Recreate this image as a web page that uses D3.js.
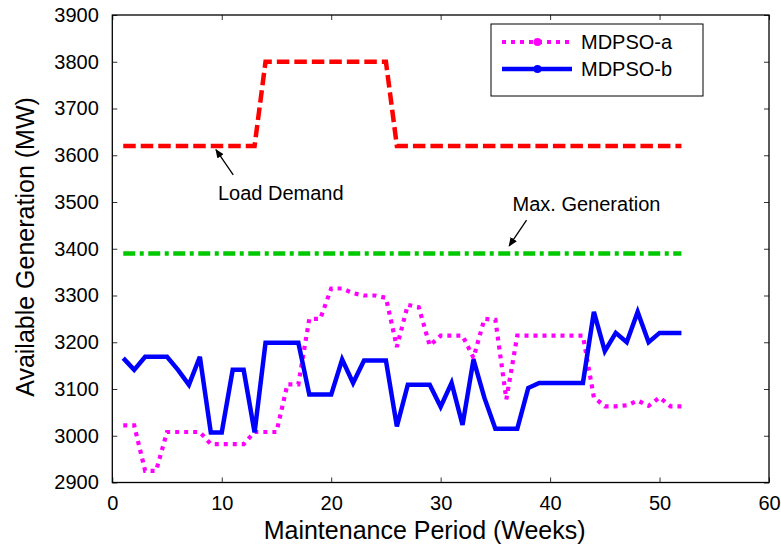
<!DOCTYPE html>
<html>
<head>
<meta charset="utf-8">
<script src="https://cdn.jsdelivr.net/npm/d3@7"></script>
<style>
  html, body { margin: 0; padding: 0; background: #fff; }
  svg { display: block; }
  text { font-family: "Liberation Sans", Arial, Helvetica, sans-serif; fill: #000; }
</style>
</head>
<body>
<svg id="chart" width="781" height="550"></svg>
<script>
// Maintenance weeks
const weeks = [1,2,3,4,5,6,7,8,9,10,11,12,13,14,15,16,17,18,19,20,21,22,23,24,25,26,
               27,28,29,30,31,32,33,34,35,36,37,38,39,40,41,42,43,44,45,46,47,48,49,50,51,52];

// Weekly load demand (MW)
const loadDemand = [3620,3620,3620,3620,3620,3620,3620,3620,3620,3620,3620,3620,3620,
                    3800,3800,3800,3800,3800,3800,3800,3800,3800,3800,3800,3800,
                    3620,3620,3620,3620,3620,3620,3620,3620,3620,3620,3620,3620,3620,3620,
                    3620,3620,3620,3620,3620,3620,3620,3620,3620,3620,3620,3620,3620];

// Installed maximum generation (MW)
const maxGeneration = [3390,3390,3390,3390,3390,3390,3390,3390,3390,3390,3390,3390,3390,
                       3390,3390,3390,3390,3390,3390,3390,3390,3390,3390,3390,3390,3390,
                       3390,3390,3390,3390,3390,3390,3390,3390,3390,3390,3390,3390,3390,
                       3390,3390,3390,3390,3390,3390,3390,3390,3390,3390,3390,3390,3390];

// Available generation per schedule (MW)
const mdpsoA = [3022,3022,2925,2925,3008,3008,3008,3008,2982,2982,2982,2982,3008,
                3008,3008,3110,3110,3250,3250,3315,3315,3305,3300,3300,3295,3190,
                3280,3275,3193,3214,3214,3214,3167,3250,3248,3078,3214,3214,3214,
                3214,3214,3214,3214,3082,3063,3063,3065,3075,3064,3082,3063,3063];

const mdpsoB = [3166,3141,3169,3169,3169,3141,3109,3169,3007,3007,3141,3141,3007,
                3199,3199,3199,3199,3088,3088,3088,3163,3113,3161,3161,3161,3020,
                3109,3109,3109,3062,3113,3023,3163,3081,3015,3015,3015,3102,3113,
                3113,3113,3113,3113,3265,3181,3220,3200,3265,3200,3220,3220,3220];

const xTicks = [0,10,20,30,40,50,60];
const yTicks = [2900,3000,3100,3200,3300,3400,3500,3600,3700,3800,3900];

const legendLabels = ["MDPSO-a", "MDPSO-b"];

// Annotation arrows, given in data units: [week, MW]
const annotations = [
  { text: "Load Demand",     label: [9.65, 3504], from: [11.05, 3558], to: [9.47, 3612] },
  { text: "Max. Generation", label: [36.57, 3481], from: [37.85, 3461], to: [36.26, 3406] }
];

const svg = d3.select("#chart");
const plot = { left: 112.3, right: 769, top: 15, bottom: 482.5 };

const x = d3.scaleLinear().domain([0, 60]).range([plot.left, plot.right]);
const y = d3.scaleLinear().domain([2900, 3900]).range([plot.bottom, plot.top]);

// Axes: ticks point inward on all four sides
function styleAxis(g, showLabels) {
  g.select(".domain").remove();
  g.selectAll(".tick line").attr("stroke", "#333").attr("stroke-width", 1);
  g.selectAll(".tick text").attr("font-size", 20).attr("fill", "#000");
  if (!showLabels) g.selectAll(".tick text").remove();
}

svg.append("g")
  .attr("transform", `translate(0,${plot.bottom})`)
  .call(d3.axisBottom(x).tickValues(xTicks).tickSizeInner(-5).tickSizeOuter(0).tickPadding(13))
  .call(g => styleAxis(g, true));

svg.append("g")
  .attr("transform", `translate(0,${plot.top})`)
  .call(d3.axisTop(x).tickValues(xTicks).tickSizeInner(-5).tickSizeOuter(0))
  .call(g => styleAxis(g, false));

svg.append("g")
  .attr("transform", `translate(${plot.left},0)`)
  .call(d3.axisLeft(y).tickValues(yTicks).tickFormat(d3.format("d")).tickSizeInner(-5).tickSizeOuter(0).tickPadding(13.5))
  .call(g => styleAxis(g, true));

svg.append("g")
  .attr("transform", `translate(${plot.right},0)`)
  .call(d3.axisRight(y).tickValues(yTicks).tickSizeInner(-5).tickSizeOuter(0))
  .call(g => styleAxis(g, false));

// Frame
svg.append("rect")
  .attr("x", plot.left).attr("y", plot.top)
  .attr("width", plot.right - plot.left).attr("height", plot.bottom - plot.top)
  .attr("fill", "none").attr("stroke", "#000").attr("stroke-width", 1.3);

// Series
const series = [
  { values: loadDemand,    color: "#ff0000", width: 4.5, dash: "12.5,5" },
  { values: maxGeneration, color: "#00c800", width: 4.5, dash: "12,4.5,4,4.5" },
  { values: mdpsoA,        color: "#ff00ff", width: 4.2, dash: "4,5" },
  { values: mdpsoB,        color: "#0000ff", width: 4.5, dash: null }
];

const line = d3.line()
  .x((d, i) => x(weeks[i]))
  .y(d => y(d));

series.forEach(s => {
  svg.append("path")
    .datum(s.values)
    .attr("d", line)
    .attr("fill", "none")
    .attr("stroke", s.color)
    .attr("stroke-width", s.width)
    .attr("stroke-linejoin", "miter")
    .attr("stroke-miterlimit", 3)
    .attr("stroke-dasharray", s.dash);
});

// Annotations with arrows
const defs = svg.append("defs");
defs.append("marker")
  .attr("id", "arrowhead")
  .attr("viewBox", "0 0 10 10")
  .attr("refX", 9).attr("refY", 5)
  .attr("markerWidth", 9).attr("markerHeight", 9)
  .attr("markerUnits", "userSpaceOnUse")
  .attr("orient", "auto")
  .append("path")
  .attr("d", "M0,0.8 L10,5 L0,9.2 Z")
  .attr("fill", "#000");

annotations.forEach(a => {
  svg.append("line")
    .attr("x1", x(a.from[0])).attr("y1", y(a.from[1]))
    .attr("x2", x(a.to[0])).attr("y2", y(a.to[1]))
    .attr("stroke", "#000").attr("stroke-width", 1.3)
    .attr("marker-end", "url(#arrowhead)");
  svg.append("text")
    .attr("x", x(a.label[0])).attr("y", y(a.label[1]))
    .attr("font-size", 20)
    .text(a.text);
});

// Legend
const legend = svg.append("g");
legend.append("rect")
  .attr("x", 491).attr("y", 24).attr("width", 212).attr("height", 72)
  .attr("fill", "#fff").attr("stroke", "#000").attr("stroke-width", 1);

const legendItems = [series[2], series[3]];
legendItems.forEach((s, i) => {
  const ly = 42 + i * 27;
  legend.append("line")
    .attr("x1", 502).attr("x2", 572).attr("y1", ly).attr("y2", ly)
    .attr("stroke", s.color).attr("stroke-width", s.width)
    .attr("stroke-dasharray", s.dash);
  legend.append("circle")
    .attr("cx", 537.5).attr("cy", ly).attr("r", 4)
    .attr("fill", s.color);
  legend.append("text")
    .attr("x", 581).attr("y", ly + 7)
    .attr("font-size", 20)
    .text(legendLabels[i]);
});

// Axis titles
svg.append("text")
  .attr("x", (plot.left + plot.right) / 2 - 16).attr("y", 539)
  .attr("text-anchor", "middle")
  .attr("font-size", 25)
  .text("Maintenance Period (Weeks)");

svg.append("text")
  .attr("transform", "translate(33.5,247) rotate(-90)")
  .attr("text-anchor", "middle")
  .attr("font-size", 25)
  .text("Available Generation (MW)");
</script>
</body>
</html>
